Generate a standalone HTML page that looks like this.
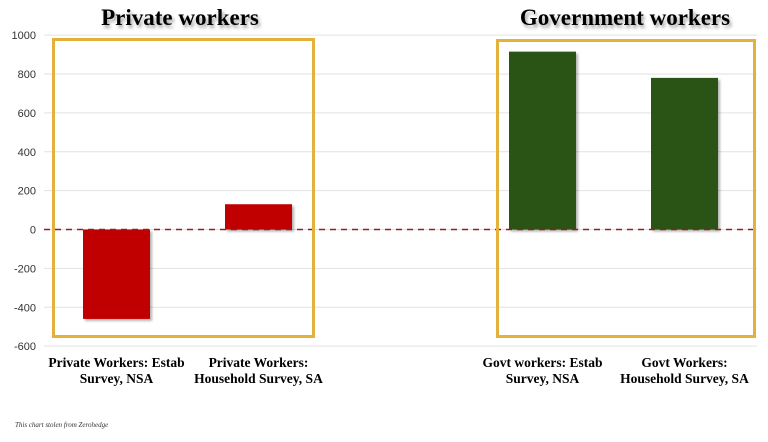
<!DOCTYPE html>
<html><head><meta charset="utf-8"><style>
html,body{margin:0;padding:0;background:#fff;}
svg{display:block;}
text{font-family:"Liberation Serif",serif;}
</style></head><body>
<svg id="chart" width="768" height="442" viewBox="0 0 768 442">
<defs>
<filter id="ts" x="-10%" y="-30%" width="130%" height="180%"><feDropShadow dx="2" dy="3" stdDeviation="1.5" flood-color="#000" flood-opacity="0.35"/></filter>
<filter id="bs" x="-10%" y="-10%" width="130%" height="130%"><feDropShadow dx="2" dy="2" stdDeviation="1.2" flood-color="#000" flood-opacity="0.3"/></filter>
</defs>
<g id="grid"></g>
<g id="yaxis"></g>
<g id="bars"></g>
<line id="zero" x1="44" x2="757" stroke="#9b1b1b" stroke-width="1.6" stroke-dasharray="6,5"/>
<rect x="53.5" y="39.5" width="260" height="297" fill="none" stroke="#e4b23c" stroke-width="3"/>
<rect x="497.5" y="40.5" width="257" height="296" fill="none" stroke="#e4b23c" stroke-width="3"/>
<text x="180" y="25" text-anchor="middle" font-size="23" font-weight="bold" filter="url(#ts)">Private workers</text>
<text x="625" y="25" text-anchor="middle" font-size="23" font-weight="bold" filter="url(#ts)">Government workers</text>
<g id="xlabels"></g>
<text x="15" y="427" font-size="7" font-style="italic" fill="#333">This chart stolen from Zerohedge</text>
</svg>
<script>
const categories = [["Private Workers: Estab","Survey, NSA"],["Private Workers:","Household Survey, SA"],["Govt workers: Estab","Survey, NSA"],["Govt Workers:","Household Survey, SA"]];
const values = [-460, 130, 915, 780];
const colors = ["#c00000","#c00000","#2a5219","#2a5219"];
const yTicks = [1000,800,600,400,200,0,-200,-400,-600];
const centers = [116.5, 258.5, 542.5, 684.5];
const NS="http://www.w3.org/2000/svg";
function y(v){return 229.5 - v*(311/1600);}
const grid=document.getElementById('grid'), ya=document.getElementById('yaxis'), bars=document.getElementById('bars'), xl=document.getElementById('xlabels');
yTicks.forEach(t=>{
  const l=document.createElementNS(NS,'line');
  
  
  l.setAttribute('x1',44);l.setAttribute('x2',757);l.setAttribute('y1',y(t));l.setAttribute('y2',y(t));
  l.setAttribute('stroke','#e2e2e2');l.setAttribute('stroke-width','1');
  grid.appendChild(l);
  const tx=document.createElementNS(NS,'text');
  
  
  tx.setAttribute('x',36);tx.setAttribute('y',y(t)+4);tx.setAttribute('text-anchor','end');
  tx.setAttribute('font-size','11');tx.setAttribute('fill','#333');
  tx.setAttribute('style','font-family:"Liberation Sans",sans-serif');
  tx.textContent=t;ya.appendChild(tx);
});
document.getElementById('zero').setAttribute('y1',y(0));
document.getElementById('zero').setAttribute('y2',y(0));
values.forEach((v,i)=>{
  const r=document.createElementNS(NS,'rect');
  
  
  const w=67;
  r.setAttribute('x',centers[i]-w/2);r.setAttribute('width',w);
  r.setAttribute('y',Math.min(y(v),y(0)));r.setAttribute('height',Math.abs(y(v)-y(0)));
  r.setAttribute('fill',colors[i]);r.setAttribute('filter','url(#bs)');
  bars.appendChild(r);
  categories[i].forEach((ln,j)=>{
    const tx=document.createElementNS(NS,'text');
    
    
    tx.setAttribute('x',centers[i]);tx.setAttribute('y',367+j*16);
    tx.setAttribute('text-anchor','middle');tx.setAttribute('font-size','13.5');tx.setAttribute('font-weight','bold');
    tx.textContent=ln;xl.appendChild(tx);
  });
});
</script>
</body></html>
